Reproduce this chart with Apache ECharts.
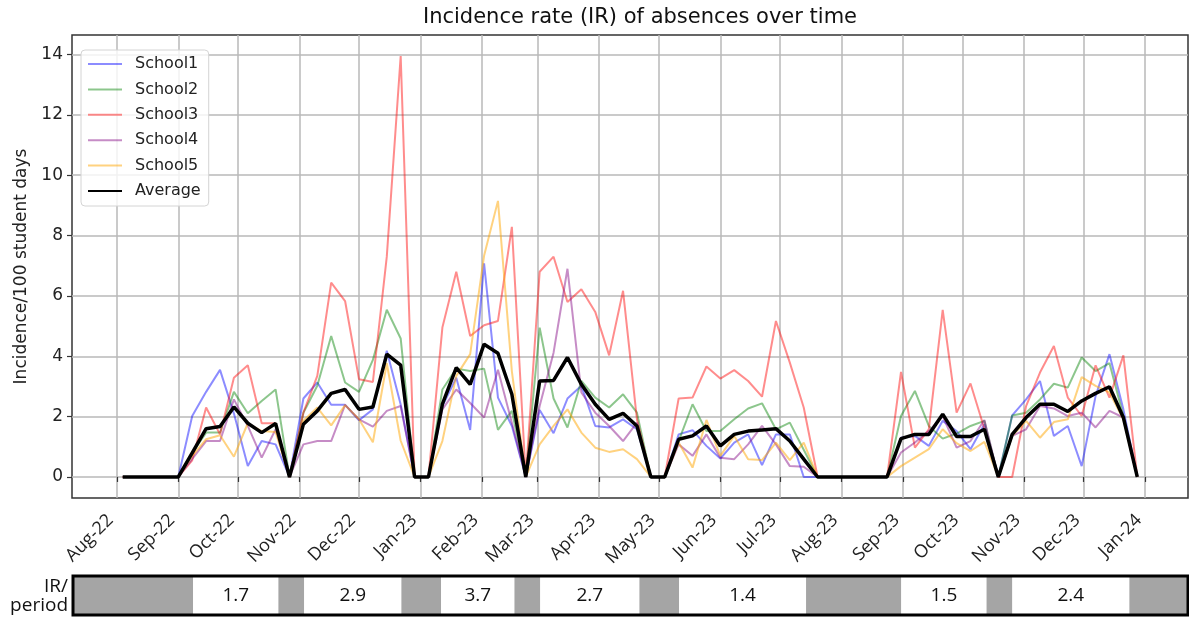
<!DOCTYPE html>
<html lang="en">
<head>
<meta charset="UTF-8">
<title>Incidence rate (IR) of absences over time</title>
<script src="https://cdn.jsdelivr.net/npm/echarts@6/dist/echarts.min.js"></script>
<style>
  html, body { margin: 0; padding: 0; background: #ffffff; }
  #main { width: 1189px; height: 617px; }
</style>
</head>
<body>
<div id="main"></div>
<script>
// weekly observations
var weeks = [
  '2022-08-04', '2022-08-11', '2022-08-18', '2022-08-25', '2022-09-01', '2022-09-08', '2022-09-15', '2022-09-22',
  '2022-09-29', '2022-10-06', '2022-10-13', '2022-10-20', '2022-10-27', '2022-11-03', '2022-11-10', '2022-11-17',
  '2022-11-24', '2022-12-01', '2022-12-08', '2022-12-15', '2022-12-22', '2022-12-29', '2023-01-05', '2023-01-12',
  '2023-01-19', '2023-01-26', '2023-02-02', '2023-02-09', '2023-02-16', '2023-02-23', '2023-03-02', '2023-03-09',
  '2023-03-16', '2023-03-23', '2023-03-30', '2023-04-06', '2023-04-13', '2023-04-20', '2023-04-27', '2023-05-04',
  '2023-05-11', '2023-05-18', '2023-05-25', '2023-06-01', '2023-06-08', '2023-06-15', '2023-06-22', '2023-06-29',
  '2023-07-06', '2023-07-13', '2023-07-20', '2023-07-27', '2023-08-03', '2023-08-10', '2023-08-17', '2023-08-24',
  '2023-08-31', '2023-09-07', '2023-09-14', '2023-09-21', '2023-09-28', '2023-10-05', '2023-10-12', '2023-10-19',
  '2023-10-26', '2023-11-02', '2023-11-09', '2023-11-16', '2023-11-23', '2023-11-30', '2023-12-07', '2023-12-14',
  '2023-12-21', '2023-12-28'
];

var school1 = [0, 0, 0, 0, 0, 2.02, 2.82, 3.55, 2.1, 0.36, 1.19, 1.08, 0, 2.6, 3.13, 2.39, 2.39, 1.88, 2.24, 4.18,
  2.4, 0, 0, 2.35, 3.29, 1.56, 7.08, 2.63, 1.69, 0, 2.22, 1.45, 2.6, 3.02, 1.69, 1.64, 1.91, 1.58, 0, 0,
  1.41, 1.55, 1.03, 0.61, 1.14, 1.41, 0.39, 1.41, 1.41, 0, 0, 0, 0, 0, 0, 0, 1.3, 1.36, 1.03, 1.86,
  1.52, 0.92, 1.75, 0, 2.04, 2.57, 3.18, 1.36, 1.69, 0.36, 2.68, 4.07, 2.24, 0];
var school2 = [0, 0, 0, 0, 0, 0.8, 1.47, 1.47, 2.82, 2.11, 2.52, 2.9, 0, 2.13, 3.02, 4.67, 3.13, 2.82, 3.88, 5.54,
  4.59, 0, 0, 2.9, 3.59, 3.51, 3.59, 1.56, 2.19, 0, 4.95, 2.6, 1.64, 3.18, 2.63, 2.3, 2.74, 2.13, 0, 0,
  1.19, 2.41, 1.52, 1.52, 1.91, 2.27, 2.44, 1.58, 1.8, 0.9, 0, 0, 0, 0, 0, 0, 2.02, 2.85, 1.69, 1.27,
  1.44, 1.69, 1.86, 0, 2.04, 2.13, 2.57, 3.09, 2.96, 3.96, 3.51, 3.77, 2.02, 0];
var school3 = [0, 0, 0, 0, 0, 0.55, 2.3, 1.41, 3.29, 3.7, 1.78, 1.78, 0, 2.13, 3.35, 6.44, 5.83, 3.24, 3.15, 7.3,
  13.95, 0, 0, 4.95, 6.8, 4.67, 5.03, 5.17, 8.29, 0, 6.8, 7.3, 5.8, 6.22, 5.47, 4.03, 6.17, 1.91, 0, 0,
  2.6, 2.63, 3.66, 3.26, 3.54, 3.18, 2.66, 5.17, 3.79, 2.3, 0, 0, 0, 0, 0, 0, 3.48, 0.97, 1.58, 5.54,
  2.13, 3.1, 1.6, 0, 0, 2.35, 3.46, 4.34, 2.63, 2.02, 3.7, 2.63, 4.03, 0];
var school4 = [0, 0, 0, 0, 0, 0.6, 1.19, 1.19, 2.57, 1.69, 0.64, 1.58, 0, 1.08, 1.19, 1.19, 2.39, 1.91, 1.67, 2.19,
  2.35, 0, 0, 2.24, 2.9, 2.45, 1.97, 3.55, 1.8, 0, 2.35, 4.12, 6.9, 2.8, 2.13, 1.69, 1.19, 1.8, 0, 0,
  1.08, 0.7, 1.41, 0.64, 0.59, 1.08, 1.69, 1.08, 0.36, 0.34, 0, 0, 0, 0, 0, 0, 0.81, 1.14, 1.52, 2.02,
  0.97, 1.19, 1.89, 0, 1.36, 1.58, 2.35, 2.27, 2.02, 2.13, 1.64, 2.19, 1.97, 0];
var school5 = [0, 0, 0, 0, 0, 0.7, 1.25, 1.38, 0.67, 1.78, 1.52, 1.49, 0, 1.86, 2.3, 1.71, 2.38, 1.91, 1.15, 3.77,
  1.2, 0, 0, 1.19, 3.35, 4.07, 7.33, 9.15, 3.5, 0, 1.08, 1.69, 2.24, 1.47, 0.97, 0.83, 0.92, 0.59, 0, 0,
  1.14, 0.31, 1.89, 0.7, 1.36, 0.59, 0.56, 1.14, 0.56, 1.14, 0, 0, 0, 0, 0, 0, 0.36, 0.64, 0.92, 1.58,
  1.12, 0.86, 1.16, 0, 1.36, 1.86, 1.3, 1.82, 1.91, 3.31, 3.02, 2.8, 1.91, 0];
var average = [0, 0, 0, 0, 0, 0.8, 1.6, 1.67, 2.32, 1.78, 1.47, 1.77, 0, 1.75, 2.19, 2.77, 2.9, 2.24, 2.32, 4.07,
  3.71, 0, 0, 2.41, 3.62, 3.07, 4.4, 4.1, 2.74, 0, 3.18, 3.2, 3.96, 3.07, 2.41, 1.91, 2.11, 1.69, 0, 0,
  1.25, 1.36, 1.69, 1.03, 1.41, 1.52, 1.56, 1.6, 1.19, 0.59, 0, 0, 0, 0, 0, 0, 1.27, 1.41, 1.41, 2.08,
  1.34, 1.34, 1.58, 0, 1.41, 1.97, 2.41, 2.41, 2.17, 2.52, 2.77, 2.99, 1.97, 0];

var yTicks = [0, 2, 4, 6, 8, 10, 12, 14];
var monthTicks = ['2022-08-01', '2022-09-01', '2022-10-01', '2022-11-01', '2022-12-01', '2023-01-01',
  '2023-02-01', '2023-03-01', '2023-04-01', '2023-05-01', '2023-06-01', '2023-07-01', '2023-08-01',
  '2023-09-01', '2023-10-01', '2023-11-01', '2023-12-01', '2024-01-01'];
var monthLabels = ['Aug-22', 'Sep-22', 'Oct-22', 'Nov-22', 'Dec-22', 'Jan-23', 'Feb-23', 'Mar-23', 'Apr-23',
  'May-23', 'Jun-23', 'Jul-23', 'Aug-23', 'Sep-23', 'Oct-23', 'Nov-23', 'Dec-23', 'Jan-24'];

// IR per period strip under the chart ('' = holiday, grey)
var periodEdges = ['2022-07-01', '2022-09-08', '2022-10-21', '2022-11-03', '2022-12-22', '2023-01-11',
  '2023-02-17', '2023-03-02', '2023-04-21', '2023-05-11', '2023-07-14', '2023-08-31', '2023-10-13',
  '2023-10-26', '2023-12-24', '2024-02-01'];
var periodLabels = ['', '1.7', '', '2.9', '', '3.7', '', '2.7', '', '1.4', '', '1.5', '', '2.4', ''];

var parse = echarts.number.parseDate;
var chart = echarts.init(document.getElementById('main'));

// dates as timestamps on a plain value axis (month ticks are irregular)
var weekTimes = weeks.map(function (d) { return +parse(d); });
var tickTimes = monthTicks.map(function (d) { return +parse(d); });

// matplotlib-like 5% margins
var t0 = weekTimes[0];
var t1 = weekTimes[weekTimes.length - 1];
var xMin = t0 - (t1 - t0) * 0.05;
var xMax = t1 + (t1 - t0) * 0.05;
var yTop = Math.max.apply(null, school1.concat(school2, school3, school4, school5, average));
var yMin = -yTop * 0.05;
var yMax = yTop * 1.05;

function pairs(values) {
  return weekTimes.map(function (t, i) { return [t, values[i]]; });
}

function lineSeries(name, values, color, width, z) {
  return {
    name: name,
    type: 'line',
    data: pairs(values),
    symbol: 'none',
    lineStyle: { color: color, width: width },
    // transparent item colour keeps the legend icon a plain line
    itemStyle: { color: 'rgba(0,0,0,0)' },
    emphasis: { disabled: true },
    z: z
  };
}

var mainFont = 'DejaVu Sans';
var stripFont = 'Open Sans';

var option = {
  animation: false,
  graphic: [
    {
      type: 'text', x: 640, y: 18,
      style: { text: 'Incidence rate (IR) of absences over time', align: 'center', verticalAlign: 'middle',
        font: '21px "DejaVu Sans"', fill: '#111' }
    },
    {
      type: 'text', x: 68, y: 587,
      style: { text: 'IR/', align: 'right', verticalAlign: 'middle', font: '19px "Open Sans"', fill: '#111' }
    },
    {
      type: 'text', x: 68, y: 606,
      style: { text: 'period', align: 'right', verticalAlign: 'middle', font: '19px "Open Sans"', fill: '#111' }
    }
  ],
  legend: {
    orient: 'vertical',
    left: 81, top: 50,
    padding: [5, 8, 6, 6],
    itemWidth: 34, itemHeight: 14, itemGap: 7.4,
    backgroundColor: 'rgba(255,255,255,0.8)',
    borderColor: '#d4d4d4', borderWidth: 1, borderRadius: 4,
    textStyle: { fontFamily: mainFont, fontSize: 16, color: '#222', lineHeight: 18, padding: [0, 0, 0, 8] },
    data: ['School1', 'School2', 'School3', 'School4', 'School5', 'Average']
  },
  grid: [
    { left: 72, right: 1, top: 35, bottom: 119, show: true, borderColor: '#333', borderWidth: 1.5,
      outerBoundsMode: 'none', containLabel: false },
    { left: 73, right: 1, top: 576, height: 39, outerBoundsMode: 'none', containLabel: false }
  ],
  xAxis: [
    {
      type: 'value', gridIndex: 0, min: xMin, max: xMax,
      axisLine: { show: false },
      axisTick: { show: true, customValues: tickTimes, length: 5, lineStyle: { color: '#333', width: 1.2 } },
      axisLabel: {
        customValues: tickTimes, rotate: 45, margin: 13, padding: [0, 9, 0, 0],
        fontFamily: stripFont, fontSize: 18, color: '#222',
        formatter: function (v) {
          var i = tickTimes.indexOf(+v);
          return i >= 0 ? monthLabels[i] : '';
        }
      },
      splitLine: { show: true, lineStyle: { color: '#b8b8b8', width: 1.5 } }
    },
    { type: 'value', gridIndex: 1, min: xMin, max: xMax, show: false }
  ],
  yAxis: [
    {
      type: 'value', gridIndex: 0, min: yMin, max: yMax,
      name: 'Incidence/100 student days', nameLocation: 'middle', nameGap: 42,
      nameTextStyle: { fontFamily: mainFont, fontSize: 17, color: '#222' },
      axisLine: { show: false },
      axisTick: { show: true, customValues: yTicks, length: 5, lineStyle: { color: '#333', width: 1.2 } },
      axisLabel: { customValues: yTicks, margin: 9, fontFamily: mainFont, fontSize: 17, color: '#222' },
      splitLine: { show: true, lineStyle: { color: '#b8b8b8', width: 1.5 } }
    },
    { type: 'value', gridIndex: 1, min: 0, max: 1, show: false }
  ],
  series: [
    lineSeries('School1', school1, 'rgba(0,0,255,0.45)', 2, 2),
    lineSeries('School2', school2, 'rgba(0,128,0,0.45)', 2, 2),
    lineSeries('School3', school3, 'rgba(255,0,0,0.45)', 2, 2),
    lineSeries('School4', school4, 'rgba(128,0,128,0.45)', 2, 2),
    lineSeries('School5', school5, 'rgba(255,165,0,0.5)', 2, 2),
    lineSeries('Average', average, '#000000', 3.5, 3),
    {
      type: 'custom',
      xAxisIndex: 1, yAxisIndex: 1,
      silent: true,
      data: periodLabels.map(function (lab, i) {
        return [+parse(periodEdges[i]), +parse(periodEdges[i + 1])];
      }),
      encode: { x: [0, 1] },
      renderItem: function (params, api) {
        var cs = params.coordSys;
        var x0 = Math.max(api.coord([api.value(0), 0])[0], cs.x);
        var x1 = Math.min(api.coord([api.value(1), 0])[0], cs.x + cs.width);
        var lab = periodLabels[params.dataIndex];
        return {
          type: 'group',
          children: [
            { type: 'rect', shape: { x: x0, y: cs.y, width: x1 - x0, height: cs.height },
              style: { fill: lab ? '#ffffff' : '#a5a5a5' } },
            { type: 'text', style: { text: lab, x: (x0 + x1) / 2, y: cs.y + cs.height / 2,
              align: 'center', verticalAlign: 'middle', font: '19px "Open Sans"', fill: '#111' } }
          ]
        };
      }
    },
    {
      // frame around the strip
      type: 'custom',
      xAxisIndex: 1, yAxisIndex: 1,
      silent: true,
      z: 5,
      data: [[0]],
      renderItem: function (params) {
        var cs = params.coordSys;
        return { type: 'rect', shape: { x: cs.x, y: cs.y, width: cs.width, height: cs.height },
          style: { fill: 'none', stroke: '#000', lineWidth: 3 } };
      }
    }
  ]
};

chart.setOption(option);
</script>
</body>
</html>
